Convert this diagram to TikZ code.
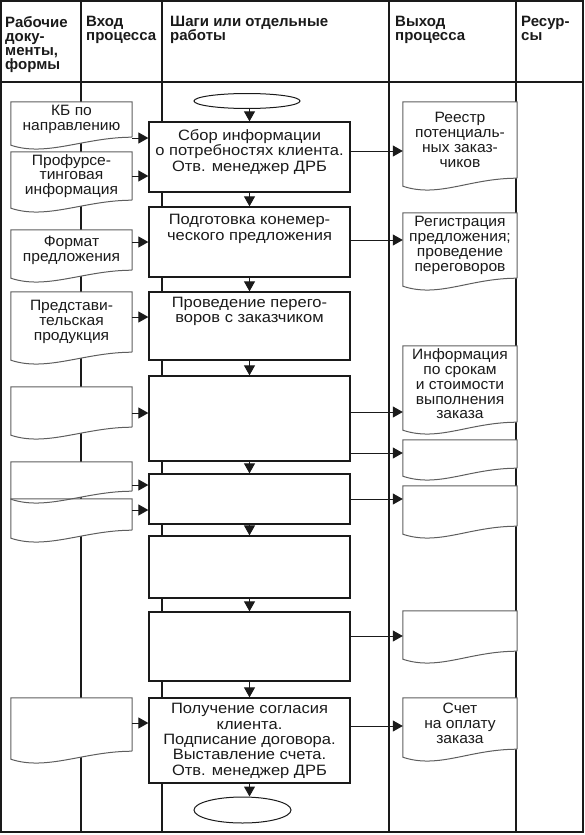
\documentclass[tikz,border=0pt]{standalone}
\usepackage{fontspec}
\setmainfont{Liberation Sans}
\newfontfamily\stepfamily{Liberation Sans}[FakeStretch=1.1]
\newfontfamily\docfamily{Liberation Sans}[FakeStretch=1.04]
\usetikzlibrary{arrows.meta,positioning,shapes.geometric}
\definecolor{ink}{HTML}{1A1A1A}
\definecolor{docline}{HTML}{5E5E5E}
\newcommand{\headfont}{\fontsize{15}{14}\selectfont\bfseries}
\newcommand{\stepfont}{\stepfamily\fontsize{15}{15.3}\selectfont}
\newcommand{\docfont}{\docfamily\fontsize{15}{14.8}\selectfont}

\tikzset{
  colline/.style={draw=ink, line width=1.3pt},
  stepbox/.style={draw=ink, line width=1.3pt, fill=white, minimum width=201pt, inner sep=0pt},
  steptext/.style={align=center, inner sep=0pt, font=\stepfont, text=ink},
  terminal/.style={ellipse, draw=ink, line width=1pt, fill=white, inner sep=0pt},
  docbox/.style={fill=white, inner sep=0pt, align=center, font=\docfont, text=ink},
  leftdoc/.style={docbox, minimum width=121pt},
  rightdoc/.style={docbox, minimum width=114pt},
  flow/.style={draw=ink, line width=1pt, -{Triangle[width=11pt,length=10pt]}},
  headtext/.style={anchor=north west, inner sep=0pt, align=left, font=\headfont, text=ink},
}

\begin{document}
\begin{tikzpicture}[x=1pt, y=-1pt]
  \useasboundingbox (0,0) rectangle (584,835);

  % table
  \draw[colline] (1,1) rectangle (583,832);
  \draw[colline] (1,82) -- (583,82);
  \foreach \x in {81,162,389,516}
    \draw[colline] (\x,1) -- (\x,832);

  \node[headtext] (h1) at (5,16)   {Рабочие\\доку-\\менты,\\формы};
  \node[headtext] (h2) at (86,16)  {Вход\\процесса};
  \node[headtext] (h3) at (170,16) {Шаги или отдельные\\работы};
  \node[headtext] (h4) at (395,16) {Выход\\процесса};
  \node[headtext] (h5) at (521,16) {Ресур-\\сы};

  % steps
  \node[terminal, minimum width=106pt, minimum height=15pt] (start) at (247,101) {};
  \node[stepbox, minimum height=70pt] (s1) at (249.5,157)   {};
  \node[stepbox, minimum height=70pt] (s2) at (249.5,242)   {};
  \node[stepbox, minimum height=68pt] (s3) at (249.5,326)   {};
  \node[stepbox, minimum height=85pt] (s4) at (249.5,418.5) {};
  \node[stepbox, minimum height=50pt] (s5) at (249.5,499)   {};
  \node[stepbox, minimum height=62pt] (s6) at (249.5,567)   {};
  \node[stepbox, minimum height=69pt] (s7) at (249.5,646.5) {};
  \node[stepbox, minimum height=85pt] (s8) at (249.5,740.5) {};
  \node[terminal, minimum width=97pt, minimum height=26pt] (end) at (242.5,810) {};

  \node[steptext, below=8pt of s1.north] (s1t) {Сбор информации\\о потребностях клиента.\\Отв. менеджер ДРБ};
  \node[steptext, below=8pt of s2.north] (s2t) {Подготовка конемер-\\ческого предложения};
  \node[steptext, below=5.5pt of s3.north] (s3t) {Проведение перего-\\воров с заказчиком};
  \node[steptext, below=6pt of s8.north] (s8t) {Получение согласия\\клиента.\\Подписание договора.\\Выставление счета.\\Отв. менеджер ДРБ};

  % documents
  \node[leftdoc, minimum height=35pt] (d1) at (71.5,119.5) {КБ по\\направлению};
  \node[leftdoc, minimum height=48pt] (d2) at (71.5,176)   {Профурсе-\\тинговая\\информация};
  \node[leftdoc, minimum height=40pt] (d3) at (71.5,250)   {Формат\\предложения};
  \node[leftdoc, minimum height=60pt] (d4) at (71.5,322)   {Представи-\\тельская\\продукция};
  \node[leftdoc, minimum height=40pt] (d5) at (71.5,407)   {};
  \node[leftdoc, minimum height=29pt] (d6) at (71.5,476.5) {};
  \node[leftdoc, minimum height=31pt] (d7) at (71.5,514.5) {};
  \node[leftdoc, minimum height=53pt] (d8) at (71.5,724.5) {};

  \node[rightdoc, minimum height=76pt] (o1) at (460,140)   {Реестр\\потенциаль-\\ных заказ-\\чиков};
  \node[rightdoc, minimum height=65pt] (o2) at (460,245.5) {Регистрация\\предложения;\\проведение\\переговоров};
  \node[rightdoc, minimum height=76pt] (o3) at (460,384)   {Информация\\по срокам\\и стоимости\\выполнения\\заказа};
  \node[rightdoc, minimum height=28pt] (o4) at (460,454)   {};
  \node[rightdoc, minimum height=40pt] (o5) at (460,506)   {};
  \node[rightdoc, minimum height=40pt] (o6) at (460,631)   {};
  \node[rightdoc, minimum height=51pt] (o7) at (460,723.5) {Счет\\на оплату\\заказа};

  % wavy bottoms
  \foreach \d in {d1,d2,d3,d4,d5,d6,d7,d8,o1,o2,o3,o4,o5,o6,o7} {
    \fill[white] (\d.south west) -- ([yshift=-8pt]\d.south west)
      .. controls +(36,12) and +(-48,0) .. (\d.south east) -- cycle;
    \draw[docline, line width=1pt] (\d.south east) -- (\d.north east) -- (\d.north west)
      -- ([yshift=-8pt]\d.south west) .. controls +(36,12) and +(-48,0) .. (\d.south east);
  }

  % connectors
  \draw[flow] (s1.north |- start.south) -- (s1.north);
  \foreach \a/\b in {s1/s2,s2/s3,s3/s4,s4/s5,s5/s6,s6/s7,s7/s8}
    \draw[flow] (\a.south) -- (\b.north);
  \draw[flow] (s8.south) -- (s8.south |- end.north);

  \foreach \a/\b/\dy in {d1/s1/-18.5,d2/s1/0,d3/s2/8,d4/s3/5,d5/s4/-6,d6/s5/-8.5,d7/s5/4.5,d8/s8/1.5}
    \draw[flow] ([yshift=\dy pt]\a.east) -- ([yshift=\dy pt]\a.east -| \b.west);
  \foreach \a/\b/\dy in {s1/o1/6,s2/o2/2,s4/o3/6.5,s4/o4/-34.5,s5/o5/0,s7/o6/10.5,s8/o7/14.5}
    \draw[flow] ([yshift=\dy pt]\a.east) -- ([yshift=\dy pt]\a.east -| \b.west);
\end{tikzpicture}
\end{document}
